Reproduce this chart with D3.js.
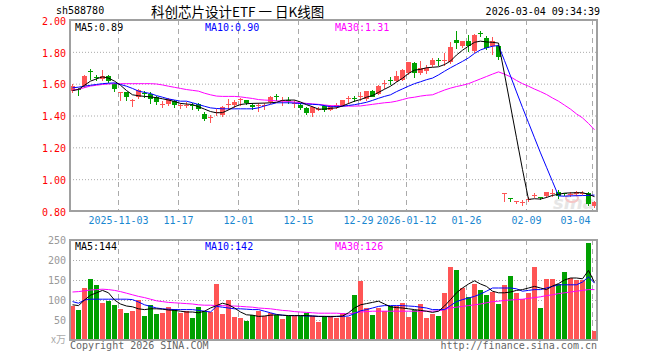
<!DOCTYPE html>
<html>
<head>
<meta charset="utf-8">
<script src="https://cdn.jsdelivr.net/npm/d3@7"></script>
<style>
body { margin: 0; background: #fff; }
svg text { font-family: "DejaVu Sans Mono", monospace; font-size: 10px; }
.axis path, .axis line { display: none; }
.grid path { display: none; }
.grid line { stroke: #aaa; stroke-dasharray: 1,2; }
.vgrid { stroke: #aaa; stroke-dasharray: 5,4; }
</style>
</head>
<body>
<svg id="chart" width="660" height="360"></svg>
<script>
// trading days shown on the chart
var dates = [
  '2025-10-22','2025-10-23','2025-10-24','2025-10-27','2025-10-28','2025-10-29','2025-10-30','2025-10-31',
  '2025-11-03','2025-11-04','2025-11-05','2025-11-06','2025-11-07','2025-11-10','2025-11-11','2025-11-12',
  '2025-11-13','2025-11-14','2025-11-17','2025-11-18','2025-11-19','2025-11-20','2025-11-21','2025-11-24',
  '2025-11-25','2025-11-26','2025-11-27','2025-11-28','2025-12-01','2025-12-02','2025-12-03','2025-12-04',
  '2025-12-05','2025-12-08','2025-12-09','2025-12-10','2025-12-11','2025-12-12','2025-12-15','2025-12-16',
  '2025-12-17','2025-12-18','2025-12-19','2025-12-22','2025-12-23','2025-12-24','2025-12-25','2025-12-26',
  '2025-12-29','2025-12-30','2025-12-31','2026-01-05','2026-01-06','2026-01-07','2026-01-08','2026-01-09',
  '2026-01-12','2026-01-13','2026-01-14','2026-01-15','2026-01-16','2026-01-19','2026-01-20','2026-01-21',
  '2026-01-22','2026-01-23','2026-01-26','2026-01-27','2026-01-28','2026-01-29','2026-01-30','2026-02-02',
  '2026-02-03','2026-02-04','2026-02-05','2026-02-06','2026-02-09','2026-02-10','2026-02-11','2026-02-12',
  '2026-02-13','2026-02-24','2026-02-25','2026-02-26','2026-02-27','2026-03-02','2026-03-03','2026-03-04'
];

var open = [1.553,1.565,1.585,1.68,1.645,1.63,1.65,1.60,1.545,1.545,1.497,1.518,1.54,1.532,1.518,1.47,
  1.475,1.49,1.46,1.465,1.465,1.475,1.41,1.388,1.42,1.405,1.467,1.464,1.498,1.497,1.468,1.462,
  1.46,1.483,1.52,1.498,1.50,1.475,1.468,1.448,1.418,1.44,1.462,1.44,1.456,1.462,1.505,1.512,
  1.515,1.50,1.557,1.538,1.602,1.624,1.622,1.627,1.668,1.73,1.668,1.68,1.716,1.75,1.745,1.736,
  1.877,1.836,1.866,1.805,1.92,1.888,1.835,1.835,0.908,0.883,0.857,0.852,0.87,0.898,0.888,0.894,
  0.913,0.921,0.911,0.905,0.908,0.912,0.915,0.832];
var high = [1.60,1.57,1.655,1.69,1.655,1.683,1.655,1.605,1.548,1.55,1.503,1.566,1.553,1.545,1.52,1.49,
  1.51,1.50,1.48,1.484,1.48,1.48,1.42,1.405,1.44,1.46,1.504,1.50,1.51,1.50,1.478,1.48,
  1.478,1.52,1.532,1.517,1.517,1.50,1.478,1.455,1.458,1.455,1.468,1.465,1.478,1.50,1.52,1.525,
  1.546,1.555,1.56,1.59,1.62,1.642,1.678,1.69,1.737,1.735,1.74,1.72,1.76,1.76,1.795,1.86,
  1.93,1.87,1.908,1.91,1.93,1.90,1.893,1.84,0.91,0.883,0.864,0.868,0.888,0.915,0.89,0.922,
  0.936,0.93,0.915,0.92,0.925,0.925,0.92,0.862];
var low = [1.545,1.53,1.58,1.63,1.625,1.625,1.61,1.555,1.50,1.497,1.462,1.51,1.517,1.48,1.47,1.455,
  1.465,1.455,1.45,1.455,1.44,1.435,1.37,1.36,1.405,1.40,1.44,1.455,1.463,1.47,1.44,1.43,
  1.44,1.48,1.497,1.463,1.48,1.455,1.44,1.41,1.40,1.435,1.43,1.435,1.45,1.46,1.48,1.49,
  1.50,1.495,1.52,1.535,1.575,1.60,1.615,1.62,1.66,1.645,1.66,1.665,1.71,1.72,1.72,1.73,
  1.825,1.83,1.805,1.80,1.90,1.82,1.785,1.758,0.864,0.86,0.853,0.838,0.86,0.885,0.875,0.89,
  0.894,0.884,0.90,0.895,0.90,0.905,0.84,0.826];
var close = [1.584,1.56,1.65,1.675,1.64,1.65,1.617,1.566,1.548,1.512,1.50,1.563,1.537,1.50,1.484,1.474,
  1.504,1.463,1.463,1.468,1.46,1.444,1.38,1.392,1.425,1.453,1.47,1.484,1.502,1.477,1.456,1.465,
  1.463,1.517,1.515,1.50,1.497,1.48,1.452,1.418,1.454,1.442,1.438,1.462,1.469,1.50,1.51,1.508,
  1.52,1.552,1.522,1.588,1.605,1.62,1.651,1.688,1.735,1.668,1.70,1.70,1.748,1.746,1.75,1.83,
  1.86,1.866,1.836,1.908,1.915,1.826,1.866,1.766,0.91,0.879,0.86,0.855,0.873,0.90,0.88,0.92,
  0.916,0.894,0.908,0.908,0.922,0.915,0.843,0.858];

var ma5 = [1.557,1.563,1.59,1.616,1.63,1.643,1.635,1.616,1.59,1.557,1.53,1.524,1.52,1.517,1.512,1.505,
  1.497,1.488,1.476,1.472,1.469,1.455,1.44,1.425,1.417,1.418,1.435,1.455,1.469,1.474,1.476,1.477,
  1.478,1.48,1.483,1.495,1.497,1.497,1.485,1.468,1.455,1.44,1.44,1.445,1.448,1.46,1.475,1.49,
  1.50,1.515,1.525,1.545,1.565,1.584,1.61,1.634,1.664,1.685,1.69,1.70,1.703,1.706,1.72,1.742,
  1.78,1.81,1.836,1.86,1.867,1.862,1.86,1.855,1.66,1.46,1.26,1.06,0.873,0.877,0.875,0.885,
  0.898,0.905,0.912,0.914,0.915,0.915,0.905,0.89];
var ma10 = [1.574,1.578,1.584,1.59,1.595,1.60,1.603,1.605,1.595,1.584,1.57,1.553,1.545,1.538,1.525,1.515,
  1.504,1.497,1.49,1.49,1.48,1.469,1.458,1.448,1.444,1.442,1.442,1.442,1.442,1.442,1.442,1.448,
  1.46,1.47,1.48,1.48,1.48,1.478,1.475,1.472,1.47,1.468,1.462,1.455,1.456,1.458,1.463,1.468,
  1.475,1.483,1.495,1.508,1.52,1.53,1.55,1.567,1.584,1.60,1.612,1.625,1.635,1.655,1.678,1.70,
  1.72,1.74,1.762,1.79,1.812,1.825,1.835,1.84,1.745,1.648,1.548,1.45,1.355,1.26,1.165,1.075,
  0.985,0.895,0.893,0.895,0.896,0.897,0.898,0.90];
var ma30 = [1.559,1.565,1.575,1.585,1.59,1.595,1.598,1.60,1.60,1.60,1.60,1.60,1.60,1.60,1.598,1.592,
  1.584,1.577,1.57,1.563,1.558,1.553,1.54,1.53,1.522,1.52,1.52,1.52,1.517,1.512,1.507,1.50,
  1.497,1.495,1.492,1.49,1.488,1.484,1.48,1.476,1.473,1.47,1.466,1.462,1.461,1.46,1.459,1.459,
  1.46,1.465,1.47,1.475,1.48,1.483,1.49,1.50,1.51,1.515,1.522,1.527,1.53,1.545,1.56,1.572,
  1.582,1.59,1.60,1.615,1.63,1.645,1.66,1.674,1.66,1.643,1.62,1.60,1.584,1.566,1.55,1.532,
  1.51,1.49,1.465,1.44,1.41,1.385,1.35,1.31];

// volume, 10k shares
var volume = [86,76,131,153,138,93,98,88,78,68,73,101,61,88,66,68,
  83,78,68,73,56,83,73,70,141,66,101,58,56,48,63,73,
  61,68,63,53,61,61,61,68,61,46,59,61,55,67,57,113,
  148,81,63,81,73,86,84,92,58,76,91,56,66,61,118,183,
  176,131,107,141,126,113,121,91,138,161,118,103,118,183,81,153,
  153,141,171,156,151,151,243,23];
var volMa5 = [88,86,100,112,118,124,118,100,90,85,83,78,76,78,78,77,
  75,74,72,70,70,68,72,80,86,92,88,80,70,63,62,59,
  60,62,63,62,61,61,61,61,60,59,59,59,59,60,68,80,
  88,91,94,97,90,83,81,80,78,76,74,72,69,72,85,101,
  118,130,140,148,140,134,122,118,118,120,124,126,130,134,130,126,
  135,141,150,155,155,153,174,144];
var volMa10 = [96,92,100,102,102,102,102,102,102,102,101,95,88,84,80,78,
  77,76,76,76,76,74,72,70,84,82,80,78,78,77,76,76,
  72,68,64,62,61,61,61,60,60,59,59,58,59,59,60,66,
  73,76,80,84,86,86,86,86,85,84,82,80,76,76,76,86,
  96,101,105,109,115,122,130,130,130,130,128,122,124,126,126,130,
  134,138,138,138,138,145,158,142];
var volMa30 = [120,121,123,125,126,127,126,124,121,117,113,109,106,102,98,96,
  94,93,92,91,90,88,87,87,86,86,85,85,84,83,82,80,
  79,78,76,74,73,71,70,69,68,67,67,67,67,66,65,68,
  70,71,72,72,72,72,72,72,72,72,72,72,72,73,76,80,
  82,84,86,88,90,93,96,97,99,100,101,102,104,106,108,111,
  113,116,118,120,122,124,126,126];

var tickDates = ['2025-11-03','2025-11-17','2025-12-01','2025-12-15','2025-12-29','2026-01-12','2026-01-26','2026-02-09','2026-03-04'],
    tickLabels = ['2025-11-03','11-17','12-01','12-15','12-29','2026-01-12','01-26','02-09','03-04'],
    priceTicks = [0.8, 1.0, 1.2, 1.4, 1.6, 1.8, 2.0],
    volTicks = [50, 100, 150, 200, 250];

var red = '#ff5555', green = '#00a000';

var svg = d3.select('#chart');
var left = 70, right = 597,
    pTop = 20, pBottom = 211,
    vTop = 240, vBottom = 340;

var x = d3.scaleBand().domain(dates).range([left, left + 6 * dates.length]),
    yP = d3.scaleLinear().domain([0.8, 2.0]).range([pBottom, pTop]),
    yV = d3.scaleLinear().domain([0, 250]).range([vBottom, vTop]);

function isUp(i) { return close[i] >= open[i]; }

// header
svg.append('text').attr('x', 56).attr('y', 14).text('sh588780');
svg.append('text').attr('x', 151).attr('y', 17)
   .style('font-family', '"Noto Sans CJK SC", sans-serif').style('font-size', '13.5px')
   .text('科创芯片设计ETF 一 日K线图');
svg.append('text').attr('x', 600).attr('y', 15).attr('text-anchor', 'end').text('2026-03-04 09:34:39');

// horizontal grids
svg.append('g').attr('class', 'grid').attr('transform', 'translate(' + left + ',0)')
   .call(d3.axisLeft(yP).tickValues([1.0, 1.2, 1.4, 1.6, 1.8]).tickSize(-(right - left)).tickFormat(''));
svg.append('g').attr('class', 'grid').attr('transform', 'translate(' + left + ',0)')
   .call(d3.axisLeft(yV).tickValues([50, 100, 150, 200]).tickSize(-(right - left)).tickFormat(''));

// vertical dashed grids in both panels
tickDates.forEach(function(d) {
  var xx = Math.round(x(d)) + 0.5;
  svg.append('line').attr('class', 'vgrid').attr('x1', xx).attr('x2', xx).attr('y1', pTop).attr('y2', pBottom);
  svg.append('line').attr('class', 'vgrid').attr('x1', xx).attr('x2', xx).attr('y1', vTop).attr('y2', vBottom);
});

// price axis
var pAxis = svg.append('g').attr('class', 'axis').attr('transform', 'translate(' + (left - 1) + ',1)')
   .call(d3.axisLeft(yP).tickValues(priceTicks).tickFormat(d3.format('.2f')).tickSize(0).tickPadding(3));
pAxis.selectAll('text').attr('fill', '#ff0000').style('font-size', '10px').style('font-family', '"DejaVu Sans Mono", monospace');

// date axis
var xAxis = svg.append('g').attr('class', 'axis').attr('transform', 'translate(0,' + pBottom + ')')
   .call(d3.axisBottom(x).tickValues(tickDates).tickFormat(function(d, i) { return tickLabels[i]; }).tickSize(0).tickPadding(6));
xAxis.selectAll('.tick').attr('transform', function(d) { return 'translate(' + (x(d) + 0.5) + ',0)'; });
xAxis.selectAll('text').attr('fill', '#1a87d0').style('font-size', '10px').style('font-family', '"DejaVu Sans Mono", monospace')
   .attr('text-anchor', function(d, i) { return i === tickDates.length - 1 ? 'end' : 'middle'; })
   .attr('x', function(d, i) { return i === tickDates.length - 1 ? -2 : 0; });

// volume axis
var vAxis = svg.append('g').attr('class', 'axis').attr('transform', 'translate(' + (left - 1) + ',0)')
   .call(d3.axisLeft(yV).tickValues(volTicks).tickSize(0).tickPadding(3));
vAxis.selectAll('text').attr('fill', '#999').style('font-size', '10px').style('font-family', '"DejaVu Sans Mono", monospace');
svg.append('text').attr('x', 66).attr('y', vBottom + 3).attr('text-anchor', 'end').attr('fill', '#aaa')
   .style('font-family', '"Noto Sans CJK SC", sans-serif').style('font-size', '10px').text('x万');

// watermark
svg.append('text').attr('x', 553).attr('y', 209).attr('fill', '#e6e6e6')
   .style('font-family', '"DejaVu Sans", sans-serif').style('font-size', '18px').style('font-style', 'italic').style('font-weight', 'bold')
   .text('sina');
svg.append('ellipse').attr('cx', 572).attr('cy', 198).attr('rx', 6).attr('ry', 4).attr('fill', 'none').attr('stroke', '#f6c6c6').attr('stroke-width', 2);

// candles
var candles = svg.append('g').selectAll('g').data(dates).enter().append('g');
candles.append('line')
  .attr('x1', function(d) { return x(d) + 2.5; })
  .attr('x2', function(d) { return x(d) + 2.5; })
  .attr('y1', function(d, i) { return Math.round(yP(high[i])); })
  .attr('y2', function(d, i) { return Math.round(yP(low[i])) + 1; })
  .attr('stroke', function(d, i) { return isUp(i) ? red : green; });
candles.append('rect')
  .attr('x', function(d) { return x(d); })
  .attr('width', 5)
  .attr('y', function(d, i) { return Math.round(yP(Math.max(open[i], close[i]))); })
  .attr('height', function(d, i) { return Math.max(1, Math.round(Math.abs(yP(open[i]) - yP(close[i])))); })
  .attr('fill', function(d, i) { return isUp(i) ? red : green; });

// volume bars
svg.append('g').selectAll('rect').data(dates).enter().append('rect')
  .attr('x', function(d) { return x(d); })
  .attr('width', 5)
  .attr('y', function(d, i) { return Math.round(yV(volume[i])); })
  .attr('height', function(d, i) { return vBottom - Math.round(yV(volume[i])); })
  .attr('fill', function(d, i) { return isUp(i) ? red : green; });

// moving averages
function drawLine(values, scale, color) {
  var line = d3.line()
    .x(function(v, i) { return x(dates[i]) + 2.5; })
    .y(function(v) { return scale(v); });
  svg.append('path').datum(values).attr('d', line).attr('fill', 'none').attr('stroke', color).attr('stroke-width', 1);
}
drawLine(ma30, yP, '#ff00ff');
drawLine(ma10, yP, '#0000ff');
drawLine(ma5, yP, '#000000');
drawLine(volMa30, yV, '#ff00ff');
drawLine(volMa10, yV, '#0000ff');
drawLine(volMa5, yV, '#000000');

// frames
svg.append('rect').attr('x', left).attr('y', pTop).attr('width', right - left).attr('height', pBottom - pTop)
   .attr('fill', 'none').attr('stroke', '#a0a0a0').attr('stroke-width', 2);
svg.append('rect').attr('x', left).attr('y', vTop).attr('width', right - left).attr('height', vBottom - vTop)
   .attr('fill', 'none').attr('stroke', '#a0a0a0').attr('stroke-width', 2);

// legends
var n = dates.length - 1;
svg.append('text').attr('x', 75).attr('y', 31).attr('fill', '#000').text('MA5:' + ma5[n].toFixed(2));
svg.append('text').attr('x', 205).attr('y', 31).attr('fill', '#0000ff').text('MA10:' + ma10[n].toFixed(2));
svg.append('text').attr('x', 335).attr('y', 31).attr('fill', '#ff00ff').text('MA30:' + ma30[n].toFixed(2));
svg.append('text').attr('x', 75).attr('y', 250).attr('fill', '#000').text('MA5:' + volMa5[n]);
svg.append('text').attr('x', 205).attr('y', 250).attr('fill', '#0000ff').text('MA10:' + volMa10[n]);
svg.append('text').attr('x', 335).attr('y', 250).attr('fill', '#ff00ff').text('MA30:' + volMa30[n]);

// footer
svg.append('text').attr('x', 70).attr('y', 349).attr('fill', '#666').text('Copyright 2026 SINA.COM');
svg.append('text').attr('x', 597).attr('y', 349).attr('text-anchor', 'end').attr('fill', '#666').text('http://finance.sina.com.cn');
</script>
</body>
</html>
